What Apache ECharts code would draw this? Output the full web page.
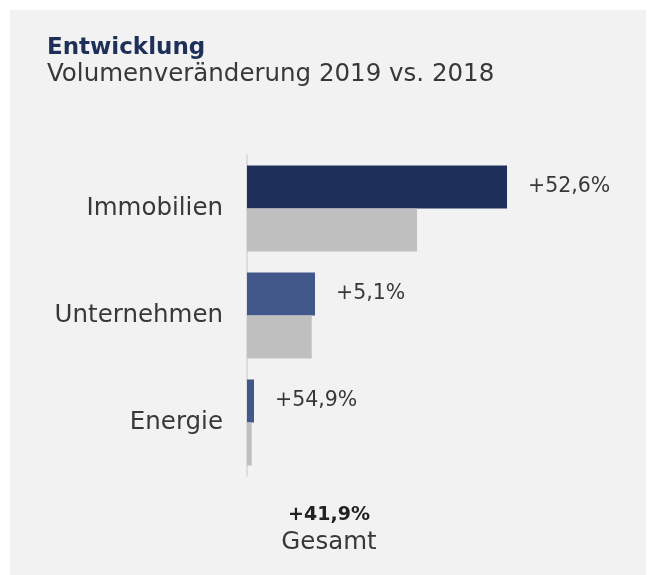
<!DOCTYPE html>
<html>
<head>
<meta charset="utf-8">
<script src="https://cdn.jsdelivr.net/npm/echarts@6/dist/echarts.min.js"></script>
<style>
  html, body { margin: 0; padding: 0; background: #fff; }
  #chart { width: 652px; height: 575px; }
</style>
</head>
<body>
<div id="chart"></div>
<script>
const categories = ['Immobilien', 'Unternehmen', 'Energie'];
const vol2019 = [26.0, 6.8, 0.7];
const vol2018 = [17.0, 6.47, 0.47];
const changeLabels = ['+52,6%', '+5,1%', '+54,9%'];
const colors2019 = ['#1e3059', '#42578a', '#42578a'];
const totalChange = '+41,9%';

const font = 'DejaVu Sans';
const myChart = echarts.init(document.getElementById('chart'));

const option = {
  backgroundColor: '#ffffff',
  animation: false,
  textStyle: { fontFamily: font },
  graphic: [
    { type: 'rect', z: -10, shape: { x: 10, y: 10, width: 636, height: 565 }, style: { fill: '#f2f2f2' } },
    { type: 'text', left: 47, top: 37, style: { text: 'Entwicklung', font: 'bold 23px "DejaVu Sans"', fill: '#1e3059' } },
    { type: 'text', left: 47, top: 62, style: { text: 'Volumenveränderung 2019 vs. 2018', font: '24.5px "DejaVu Sans"', fill: '#383838' } },
    { type: 'text', x: 329, y: 515, style: { text: totalChange, font: 'bold 19px "DejaVu Sans"', fill: '#222', align: 'center', verticalAlign: 'middle' } },
    { type: 'text', x: 329, y: 543, style: { text: 'Gesamt', font: '24.5px "DejaVu Sans"', fill: '#383838', align: 'center', verticalAlign: 'middle' } }
  ],
  grid: { left: 247, top: 155, height: 321, width: 350 },
  xAxis: { type: 'value', min: 0, max: 35, show: false },
  yAxis: {
    type: 'category',
    inverse: true,
    data: categories,
    axisLine: { show: true, lineStyle: { color: '#d6d6d6', width: 1.5 } },
    axisTick: { show: false },
    axisLabel: { color: '#383838', fontSize: 24.5, margin: 24, fontFamily: font }
  },
  series: [
    {
      name: '2019',
      type: 'bar',
      barWidth: 43,
      barGap: '0%',
      data: vol2019.map((v, i) => ({ value: v, itemStyle: { color: colors2019[i] } })),
      label: {
        show: true,
        position: 'right',
        distance: 21,
        color: '#383838',
        fontSize: 20.5,
        fontFamily: font,
        formatter: p => changeLabels[p.dataIndex]
      }
    },
    {
      name: '2018',
      type: 'bar',
      barWidth: 43,
      barGap: '0%',
      itemStyle: { color: '#bfbfbf' },
      data: vol2018
    }
  ]
};

myChart.setOption(option);
</script>
</body>
</html>
